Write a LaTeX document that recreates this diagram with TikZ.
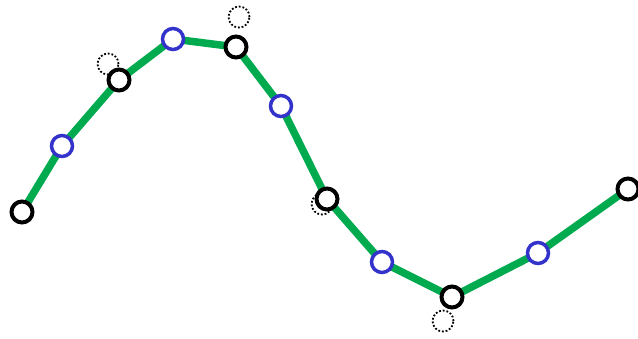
\documentclass[tikz,border=0pt]{standalone}
\begin{document}
\begin{tikzpicture}[x=1pt,y=-1pt,
  blk/.style={circle,draw=black,line width=4pt,fill=white,inner sep=0pt,minimum size=21pt},
  blu/.style={circle,draw=pblue,line width=3.5pt,fill=white,inner sep=0pt,minimum size=21pt},
  ghost/.style={circle,draw=black,line width=1.8pt,dash pattern=on 1.8pt off 1.9pt,inner sep=0pt,minimum size=21pt},
  seg/.style={draw=pgreen,line width=7.5pt}]
\definecolor{pgreen}{HTML}{00AA4F}
\definecolor{pblue}{HTML}{3333CC}
\useasboundingbox (0,0) rectangle (638,338);
% dotted ghost circles (behind)
\node[ghost] (g1) at (108,64) {};
\node[ghost] (g2) at (239,17) {};
\node[ghost] (g3) at (322,204) {};
\node[ghost] (g4) at (443,321) {};
% coordinates of points
\coordinate (p0) at (22,212);
\coordinate (q1) at (62,146);
\coordinate (p1) at (119,80);
\coordinate (q2) at (173,39);
\coordinate (p2) at (236,47);
\coordinate (q3) at (281,106);
\coordinate (p3) at (327,199);
\coordinate (q4) at (382,262);
\coordinate (p4) at (452,297);
\coordinate (q5) at (538,253);
\coordinate (p5) at (628,189);
\draw[seg,line join=round] (p0) -- (q1) -- (p1) -- (q2) -- (p2) -- (q3) -- (p3) -- (q4) -- (p4) -- (q5) -- (p5);
\node[blk] (n0) at (p0) {};
\node[blu] (m1) at (q1) {};
\node[blk] (n1) at (p1) {};
\node[blu] (m2) at (q2) {};
\node[blk] (n2) at (p2) {};
\node[blu] (m3) at (q3) {};
\node[blk] (n3) at (p3) {};
\node[blu] (m4) at (q4) {};
\node[blk] (n4) at (p4) {};
\node[blu] (m5) at (q5) {};
\node[blk] (n5) at (p5) {};
\end{tikzpicture}
\end{document}
